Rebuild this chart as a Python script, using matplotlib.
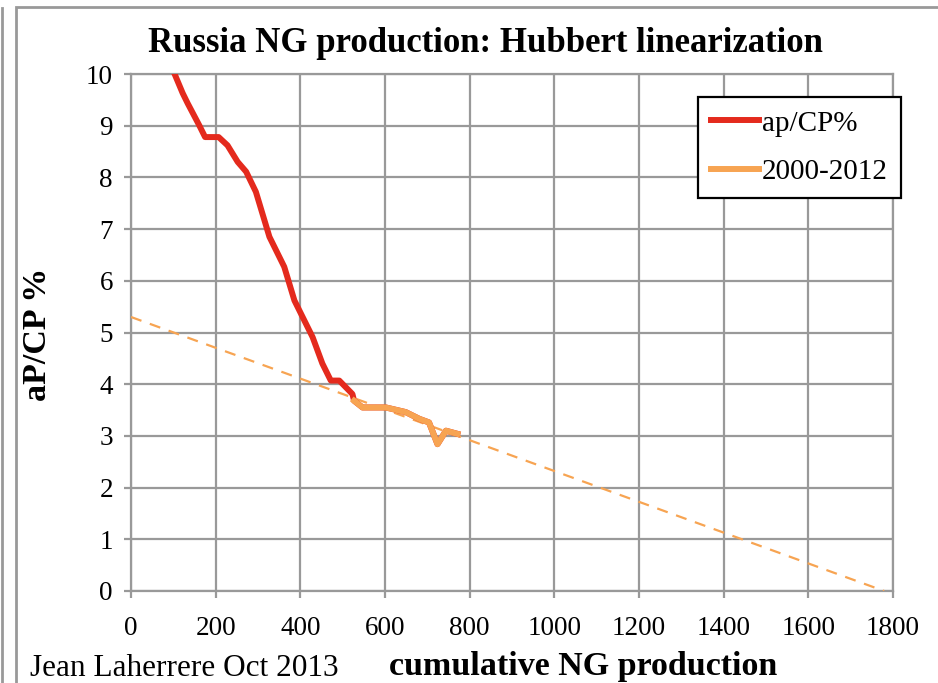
import matplotlib
matplotlib.use("Agg")
import matplotlib.pyplot as plt
from matplotlib.lines import Line2D
from matplotlib.patches import Rectangle

# Data
red_x = [98, 102, 122, 134, 161, 175, 207, 228, 252, 272, 295, 327, 362, 386,
         429, 452, 472, 492, 523, 527, 547, 602, 649, 681, 704, 724, 744, 771]
red_y = [10.1, 10.02, 9.63, 9.43, 9.01, 8.78, 8.78, 8.62, 8.30, 8.11, 7.72, 6.85,
         6.27, 5.62, 4.91, 4.40, 4.07, 4.07, 3.81, 3.68, 3.55, 3.55, 3.46, 3.33,
         3.26, 2.84, 3.10, 3.04]
orange_x = [527, 547, 602, 649, 681, 704, 724, 744, 771]
orange_y = [3.68, 3.55, 3.55, 3.46, 3.33, 3.26, 2.84, 3.10, 3.04]
trend_x = [0, 1779]
trend_y = [5.30, 0.0]

x_ticks = [0, 200, 400, 600, 800, 1000, 1200, 1400, 1600, 1800]
y_ticks = [0, 1, 2, 3, 4, 5, 6, 7, 8, 9, 10]

RED = "#E42A1D"
ORANGE = "#F7A452"
GRID = "#999999"

plt.rcParams["font.family"] = ["Liberation Serif", "DejaVu Serif"]

W, H = 938, 683
fig = plt.figure(figsize=(W / 100, H / 100), dpi=100)
ax = fig.add_axes([131 / W, 1 - 591 / H, (893 - 131) / W, (591 - 74) / H])

ax.plot(trend_x, trend_y, color=ORANGE, lw=1.6, ls=(0, (5, 4)), zorder=3, clip_on=True)
ax.plot(red_x, red_y, color=RED, lw=4.3, solid_joinstyle="round", zorder=4, label="ap/CP%")
ax.plot(orange_x, orange_y, color=ORANGE, lw=4.3, solid_joinstyle="round", zorder=5, label="2000-2012")

ax.set_xlim(0, 1800)
ax.set_ylim(0, 10)
ax.set_xticks(x_ticks)
ax.set_yticks(y_ticks)
ax.grid(True, color=GRID, lw=1.6)
ax.set_axisbelow(True)
for s in ax.spines.values():
    s.set_color(GRID)
    s.set_linewidth(1.6)
ax.tick_params(axis="both", direction="out", length=5, width=1.6, color=GRID,
               labelsize=19.5, labelcolor="black")
ax.tick_params(axis="x", pad=13)
ax.tick_params(axis="y", pad=8)

fig.text(485 / W, 1 - 44 / H, "Russia NG production: Hubbert linearization",
         fontsize=25, fontweight="bold", ha="center", va="center")
fig.text(38 / W, 1 - 334 / H, "aP/CP %", rotation=90, fontsize=24.5,
         fontweight="bold", ha="center", va="center")
fig.text(583 / W, 1 - 666 / H, "cumulative NG production", fontsize=24.5,
         fontweight="bold", ha="center", va="center")
fig.text(30 / W, 1 - 668 / H, "Jean Laherrere Oct 2013", fontsize=22.5,
         ha="left", va="center")

leg = ax.legend(loc="upper right", bbox_to_anchor=(901 / W, 1 - 97 / H),
                bbox_transform=fig.transFigure, fontsize=21, frameon=True,
                fancybox=False, borderpad=0.45, labelspacing=0.75,
                handlelength=1.65, handletextpad=0.1, borderaxespad=0)
leg.get_frame().set_edgecolor("black")
leg.get_frame().set_linewidth(1.6)
leg.get_frame().set_alpha(1)

# outer frame lines
fig.add_artist(Rectangle((16 / W, -0.1), 2, 1 - 7 / H + 0.1, transform=fig.transFigure,
                         fill=False, edgecolor=GRID, lw=2))
fig.add_artist(Line2D([1.5 / W, 1.5 / W], [0, 1 - 8 / H], transform=fig.transFigure,
                      color=GRID, lw=2))

fig.savefig("out.png", dpi=100)
